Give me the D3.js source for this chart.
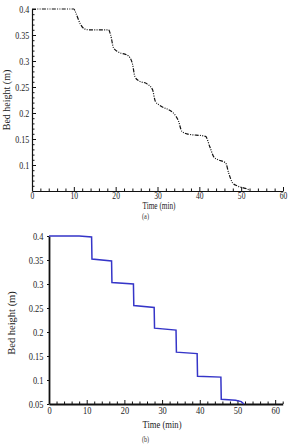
<!DOCTYPE html>
<html>
<head>
<meta charset="utf-8">
<script src="https://cdn.jsdelivr.net/npm/d3@7"></script>
<style>
  body { margin: 0; background: #fff; }
  .axis path, .axis line { stroke: #111; }
</style>
</head>
<body>
<svg id="chart" width="288" height="447"></svg>
<script>
// (a) simulated bed height, dash-dot-dot
const timeA = [0, 10, 10.5, 11.5, 12.5, 13.5, 18.3, 18.8, 19.5, 20.5, 23, 24, 24.6, 25.5, 27.5, 28.8, 29.5, 30.5, 34, 35, 35.8, 37, 41.5, 42.5, 43.5, 44.5, 46.3, 47, 48, 49, 51, 52];
const heightA = [0.4, 0.4, 0.392, 0.372, 0.362, 0.36, 0.36, 0.35, 0.325, 0.318, 0.31, 0.295, 0.27, 0.262, 0.256, 0.245, 0.222, 0.215, 0.198, 0.185, 0.165, 0.16, 0.155, 0.135, 0.115, 0.11, 0.104, 0.085, 0.065, 0.06, 0.055, 0.052];

// (b) stepped bed height, blue
const timeB = [0, 8, 11.3, 11.4, 16.6, 16.7, 22.4, 22.5, 27.9, 28, 33.7, 33.8, 39.3, 39.4, 45.6, 45.7, 49.5, 51, 51.7];
const heightB = [0.4, 0.4, 0.398, 0.352, 0.348, 0.303, 0.3, 0.255, 0.251, 0.208, 0.204, 0.158, 0.155, 0.108, 0.106, 0.06, 0.058, 0.055, 0.05];

const xTicks = [0, 10, 20, 30, 40, 50, 60];
const yTicksA = [0.1, 0.15, 0.2, 0.25, 0.3, 0.35, 0.4];
const yTicksB = [0.05, 0.1, 0.15, 0.2, 0.25, 0.3, 0.35, 0.4];

const serif = '"Liberation Serif", "Times New Roman", "DejaVu Serif", serif';
const svg = d3.select('#chart').attr('font-family', serif);

function drawPanel(opts) {
  const x = d3.scaleLinear().domain(opts.xDomain).range([opts.left, opts.right]);
  const y = d3.scaleLinear().domain([0.05, 0.4]).range([opts.bottom, opts.top]);
  const g = svg.append('g');

  // minor ticks first
  const xMinor = d3.range(0, opts.xDomain[1] + 0.001, 2).filter(v => v % 10 !== 0);
  g.append('g').attr('class', 'axis')
    .attr('transform', `translate(0,${opts.bottom})`)
    .call(d3.axisBottom(x).tickValues(xMinor).tickSize(-2.5).tickFormat(''))
    .call(s => s.select('.domain').remove());
  if (opts.yMinor) {
    const yMinor = d3.range(5, 41).map(v => v / 100).filter(v => Math.round(v * 100) % 5 !== 0);
    g.append('g').attr('class', 'axis')
      .attr('transform', `translate(${opts.left},0)`)
      .call(d3.axisLeft(y).tickValues(yMinor).tickSize(-2.5).tickFormat(''))
      .call(s => s.select('.domain').remove());
  }

  const xAxis = g.append('g').attr('class', 'axis')
    .attr('transform', `translate(0,${opts.bottom})`)
    .call(d3.axisBottom(x).tickValues(xTicks).tickSizeInner(-4).tickSizeOuter(0).tickPadding(opts.xPad).tickFormat(d3.format('d')));
  xAxis.attr('font-family', serif);
  xAxis.select('.domain').attr('stroke-width', opts.axisWidth);
  xAxis.selectAll('text').attr('font-size', opts.xfs).attr('fill', '#222').attr('transform', `scale(${opts.sx},1)`);

  const yAxis = g.append('g').attr('class', 'axis')
    .attr('transform', `translate(${opts.left},0)`)
    .call(d3.axisLeft(y).tickValues(opts.yTicks).tickSizeInner(opts.yTickSize).tickSizeOuter(0)
      .tickPadding(opts.yPad).tickFormat(d => String(+d.toFixed(2))));
  yAxis.attr('font-family', serif);
  yAxis.select('.domain').attr('stroke-width', opts.axisWidth);
  yAxis.selectAll('text').attr('font-size', opts.fs).attr('fill', '#222').attr('transform', `scale(${opts.sx},1)`);

  const line = d3.line()
    .x((d, i) => x(opts.times[i]))
    .y(d => y(d))
    .curve(opts.curve);
  g.append('path')
    .attr('d', line(opts.values))
    .attr('fill', 'none')
    .attr('stroke', opts.color)
    .attr('stroke-width', opts.lineWidth)
    .attr('stroke-dasharray', opts.dash);

  g.append('text')
    .attr('transform', `translate(${opts.yTitleX},${opts.yTitleY}) rotate(-90)`)
    .attr('text-anchor', 'middle')
    .attr('font-size', opts.fs)
    .attr('fill', '#222')
    .text('Bed height (m)');
  g.append('text')
    .attr('x', opts.xTitleX).attr('y', opts.xTitleY)
    .attr('text-anchor', 'middle')
    .attr('font-size', opts.fs)
    .attr('fill', '#222')
    .attr('textLength', opts.xTitleLen)
    .attr('lengthAdjust', 'spacingAndGlyphs')
    .text('Time (min)');
  g.append('text')
    .attr('x', 145.5).attr('y', opts.capY)
    .attr('text-anchor', 'middle')
    .attr('font-size', 7.5)
    .attr('fill', '#333')
    .attr('textLength', 7)
    .attr('lengthAdjust', 'spacingAndGlyphs')
    .text(opts.caption);
}

drawPanel({
  xDomain: [0, 60], left: 32, right: 283, top: 9, bottom: 191,
  yTicks: yTicksA, yMinor: true, yTickSize: -4, yPad: 3.5, xPad: 1, axisWidth: 1.2,
  fs: 10, xfs: 9.5, sx: 0.8,
  times: timeA, values: heightA, curve: d3.curveMonotoneX,
  color: '#111', lineWidth: 1.2, dash: '4,1.3,1,1.3,1,1.3',
  yTitleX: 9.5, yTitleY: 100, xTitleX: 159, xTitleY: 209, xTitleLen: 33, capY: 219, caption: '(a)'
});

drawPanel({
  xDomain: [0, 62], left: 49, right: 282.7, top: 236, bottom: 404,
  yTicks: yTicksB, yMinor: false, yTickSize: 2, yPad: 5, xPad: 3, axisWidth: 1.8,
  fs: 10.5, xfs: 10.5, sx: 0.8,
  times: timeB, values: heightB, curve: d3.curveLinear,
  color: '#3535c8', lineWidth: 1.5, dash: null,
  yTitleX: 14.5, yTitleY: 323, xTitleX: 162, xTitleY: 428, xTitleLen: 39, capY: 442, caption: '(b)'
});
</script>
</body>
</html>
